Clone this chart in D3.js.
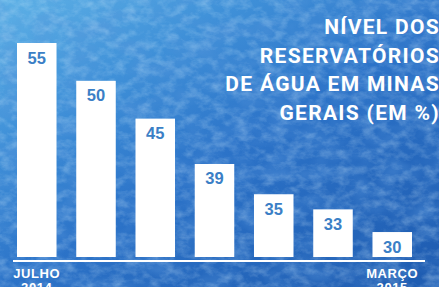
<!DOCTYPE html>
<html>
<head>
<meta charset="utf-8">
<script src="https://cdn.jsdelivr.net/npm/d3@7"></script>
<style>
  html, body { margin: 0; padding: 0; background: #3a8ad3; }
  svg { display: block; }
</style>
</head>
<body>
<svg class="chart" width="439" height="287"></svg>
<script>
// reservoir level (%) from July 2014 to March 2015
const months = ["JUL", "AGO", "SET", "OUT", "NOV", "DEZ", "MAR"]
const levels = [55, 50, 45, 39, 35, 33, 30]
const tickLabels = [["JULHO", "2014"], ["MARÇO", "2015"]]
const titleLines = ["NÍVEL DOS", "RESERVATÓRIOS", "DE ÁGUA EM MINAS", "GERAIS (EM %)"]

const width = 439, height = 287
const svg = d3.select("svg.chart")
const defs = svg.append("defs")

// watercolor-ish background
const grad = defs.append("linearGradient").attr("id", "bg")
  .attr("x1", 0).attr("y1", 0).attr("x2", 0.9).attr("y2", 1)
grad.append("stop").attr("offset", "0%").attr("stop-color", "#5eb1e6")
grad.append("stop").attr("offset", "28%").attr("stop-color", "#3f90d8")
grad.append("stop").attr("offset", "55%").attr("stop-color", "#2c73c8")
grad.append("stop").attr("offset", "100%").attr("stop-color", "#1f5db2")

const light = defs.append("filter").attr("id", "mottle")
  .attr("x", 0).attr("y", 0).attr("width", "100%").attr("height", "100%")
light.append("feTurbulence").attr("type", "fractalNoise")
  .attr("baseFrequency", "0.08 0.12").attr("numOctaves", 4).attr("seed", 7)
light.append("feColorMatrix").attr("type", "matrix")
  .attr("values", "0 0 0 0 0.7  0 0 0 0 0.88  0 0 0 0 1  2 0 0 0 -0.8")

const dark = defs.append("filter").attr("id", "shade")
  .attr("x", 0).attr("y", 0).attr("width", "100%").attr("height", "100%")
dark.append("feTurbulence").attr("type", "fractalNoise")
  .attr("baseFrequency", "0.03 0.05").attr("numOctaves", 3).attr("seed", 3)
dark.append("feColorMatrix").attr("type", "matrix")
  .attr("values", "0 0 0 0 0.1  0 0 0 0 0.3  0 0 0 0 0.7  0 1.6 0 0 -0.62")

svg.append("rect").attr("width", width).attr("height", height).attr("fill", "url(#bg)")
svg.append("rect").attr("width", width).attr("height", height)
  .attr("filter", "url(#shade)").attr("opacity", 0.55)
svg.append("rect").attr("width", width).attr("height", height)
  .attr("filter", "url(#mottle)").attr("opacity", 0.3)

// scales
const x = d3.scaleBand().domain(months).range([17, 412]).paddingInner(0.333).paddingOuter(0)
const y = d3.scaleLinear().domain([26.7, 55]).range([257, 43])

const g = svg.append("g")

g.selectAll("rect.bar")
  .data(levels)
  .enter()
  .append("rect")
  .attr("class", "bar")
  .attr("x", (d, i) => x(months[i]))
  .attr("y", (d) => y(d))
  .attr("width", x.bandwidth())
  .attr("height", (d) => y.range()[0] - y(d))
  .attr("fill", "#ffffff")

g.selectAll("text.value")
  .data(levels)
  .enter()
  .append("text")
  .attr("class", "value")
  .attr("x", (d, i) => x(months[i]) + x.bandwidth() / 2)
  .attr("y", (d) => y(d) + 20.5)
  .attr("text-anchor", "middle")
  .attr("font-family", "Liberation Sans, Arial, sans-serif")
  .attr("font-weight", "bold")
  .attr("font-size", 16.5)
  .attr("fill", "#3b7fc6")
  .text((d) => d)

// baseline
g.append("line")
  .attr("x1", 13).attr("x2", 425)
  .attr("y1", 261).attr("y2", 261)
  .attr("stroke", "#ffffff").attr("stroke-width", 2)

// first and last month labels
const ends = [months[0], months[months.length - 1]]
ends.forEach((m, i) => {
  const t = g.append("text")
    .attr("x", x(m) + x.bandwidth() / 2)
    .attr("y", 277.5)
    .attr("text-anchor", "middle")
    .attr("font-family", "Liberation Sans, Arial, sans-serif")
    .attr("font-weight", "bold")
    .attr("font-size", 13)
    .attr("letter-spacing", 0.6)
    .attr("fill", "#ffffff")
  tickLabels[i].forEach((line, j) => {
    t.append("tspan").attr("x", x(m) + x.bandwidth() / 2).attr("dy", j === 0 ? 0 : 14).text(line)
  })
})

// title
svg.append("g").selectAll("text")
  .data(titleLines)
  .enter()
  .append("text")
  .attr("x", 440)
  .attr("y", (d, i) => 34 + i * 28.7)
  .attr("text-anchor", "end")
  .attr("font-family", "Roboto, sans-serif")
  .attr("font-weight", "bold")
  .attr("font-size", 21)
  .attr("letter-spacing", 1.3)
  .attr("fill", "#ffffff")
  .text((d) => d)
</script>
</body>
</html>
